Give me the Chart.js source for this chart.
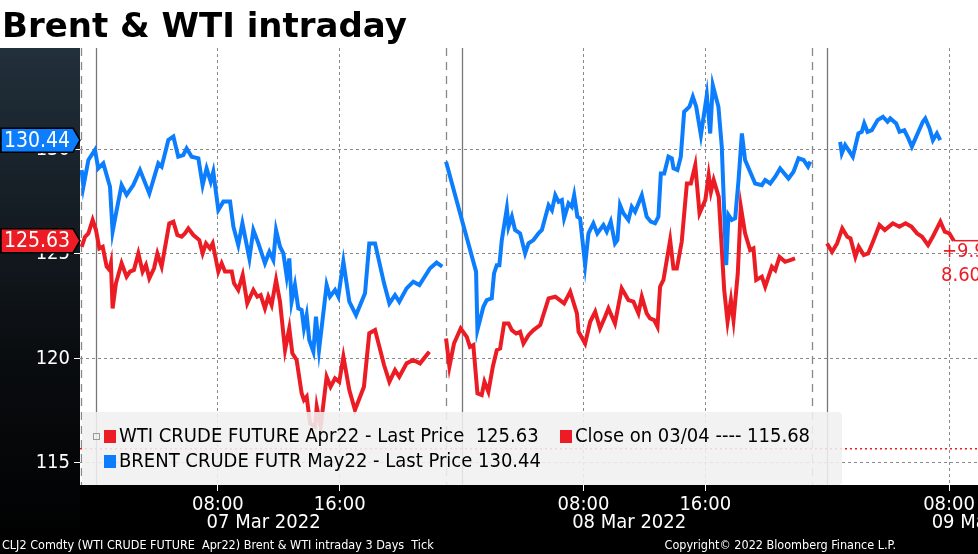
<!DOCTYPE html>
<html>
<head>
<meta charset="utf-8">
<script src="https://cdn.jsdelivr.net/npm/chart.js@4"></script>
<style>
  html, body { margin: 0; padding: 0; background: #000; }
  #wrap { width: 978px; height: 554px; position: relative; }
</style>
</head>
<body>
<div id="wrap"><canvas id="myChart" width="978" height="554"></canvas></div>
<script>
// hours since 00:00 07 Mar 2022, price in USD
const brentD1 = [[-0.94,129.01],[-0.83,128.21],[-0.5,129.49],[-0.07,129.97],[0.15,129.09],[0.48,129.33],[0.92,128.21],[1.09,126.06],[1.36,127.1],[1.68,128.29],[2.01,127.82],[2.45,128.29],[2.89,129.01],[3.5,127.89],[4.09,129.33],[4.31,129.17],[4.75,130.45],[5.08,130.61],[5.4,129.65],[5.73,129.73],[5.95,130.05],[6.28,129.65],[6.72,129.57],[7.0,128.29],[7.26,129.09],[7.53,128.45],[7.7,128.93],[8.03,127.1],[8.36,127.5],[8.8,127.5],[9.02,126.3],[9.34,125.42],[9.61,126.46],[10.07,124.78],[10.33,126.14],[10.66,125.5],[11.09,124.55],[11.38,125.1],[11.64,124.7],[11.82,126.14],[12.08,125.34],[12.3,125.02],[12.52,123.91],[12.69,124.78],[12.84,122.71],[13.06,123.51],[13.28,122.39],[13.5,122.31],[13.65,121.44],[13.83,122.07],[14.0,120.88],[14.27,120.32],[14.44,121.99],[14.64,120.4],[15.14,123.51],[15.36,122.95],[15.69,123.27],[15.91,122.95],[16.24,124.63],[16.63,122.71],[17.07,122.07],[17.66,123.11],[17.94,125.5],[18.32,125.5],[18.91,123.59],[19.26,122.63],[19.63,123.03],[19.91,122.71],[20.39,123.35],[20.83,123.67],[21.23,123.51],[21.93,124.31],[22.36,124.58],[22.73,124.39]];
const brentD2 = [[22.98,129.41],[23.9,126.94],[24.95,124.15],[25.04,121.36],[25.43,122.47],[25.65,122.79],[25.98,122.87],[26.13,124.06],[26.31,124.46],[26.48,124.46],[26.64,125.66],[26.97,127.17],[27.08,126.29],[27.3,126.78],[27.51,126.14],[27.84,125.98],[28.17,125.02],[28.39,125.5],[28.72,125.66],[29.05,125.98],[29.27,126.14],[29.71,127.33],[29.93,127.09],[30.15,127.81],[30.37,127.49],[30.58,127.57],[30.73,126.7],[31.02,127.41],[31.23,127.25],[31.39,127.81],[31.6,126.78],[31.78,126.7],[32.11,124.46],[32.33,125.98],[32.65,126.46],[32.91,125.98],[33.31,126.38],[33.53,126.06],[33.79,126.54],[34.07,125.5],[34.23,125.66],[34.4,127.33],[34.62,126.94],[34.95,126.62],[35.17,127.25],[35.39,127.01],[35.61,127.41],[35.83,127.81],[36.15,126.78],[36.42,126.54],[36.7,126.46],[36.92,126.78],[37.08,128.85],[37.3,128.85],[37.58,129.65],[37.8,129.57],[37.91,129.09],[38.17,129.01],[38.39,129.65],[38.61,131.8],[38.96,132.04],[39.18,132.52],[39.4,132.04],[39.71,130.68],[40.1,132.6],[40.32,130.76],[40.49,133.07],[40.86,132.04],[41.08,130.13],[41.37,124.46],[41.52,126.86],[41.74,126.62],[41.96,126.7],[42.18,128.53],[42.4,130.76],[42.61,129.49],[42.94,128.93],[43.27,128.37],[43.71,128.29],[43.93,128.53],[44.26,128.37],[44.59,128.69],[44.91,129.09],[45.46,128.61],[45.79,128.93],[46.12,129.57],[46.45,129.49],[46.74,129.17],[46.89,129.41]];
const brentD3 = [[48.85,130.36],[48.96,129.81],[49.18,130.21],[49.68,129.65],[50.05,130.76],[50.27,130.84],[50.43,131.24],[50.65,130.84],[50.93,130.92],[51.31,131.4],[51.66,131.56],[51.96,131.32],[52.14,131.48],[52.53,131.24],[52.75,130.84],[53.06,130.92],[53.28,130.6],[53.56,130.13],[53.89,130.68],[54.28,131.32],[54.44,131.48],[54.72,131.0],[54.94,130.44],[55.2,130.76],[55.42,130.44]];
const wtiD1 = [[-0.94,125.34],[-0.72,125.82],[-0.5,125.98],[-0.22,126.62],[0,126.14],[0.22,125.26],[0.44,125.34],[0.7,124.39],[0.88,124.23],[0.98,124.55],[1.09,122.39],[1.31,123.59],[1.68,124.55],[2.01,123.91],[2.23,124.15],[2.49,124.23],[2.78,125.02],[3.06,124.15],[3.28,124.47],[3.5,123.83],[3.81,124.31],[4.03,125.02],[4.31,124.39],[4.81,126.46],[5.08,126.54],[5.34,125.9],[5.62,125.82],[5.84,125.98],[6.06,126.22],[6.39,125.9],[6.78,125.66],[7.0,125.02],[7.22,125.5],[7.48,125.26],[7.66,125.5],[8.03,124.15],[8.25,124.55],[8.47,124.15],[8.91,124.15],[9.06,123.59],[9.34,123.27],[9.63,123.99],[9.93,122.63],[10.33,123.27],[10.59,122.95],[10.81,123.03],[11.09,122.39],[11.31,122.95],[11.53,122.55],[11.82,123.75],[12.08,122.71],[12.41,120.4],[12.69,121.44],[12.89,120.24],[13.17,119.92],[13.5,118.33],[13.65,118.01],[13.83,118.17],[14.05,116.89],[14.38,116.73],[14.49,117.69],[14.75,116.73],[15.14,119.12],[15.4,118.64],[15.69,119.04],[15.97,118.88],[16.24,120.08],[16.63,118.48],[17.0,117.53],[17.59,118.64],[17.94,121.2],[18.32,121.36],[18.91,119.68],[19.26,118.88],[19.63,119.44],[19.91,119.12],[20.39,119.76],[20.83,119.92],[21.27,119.76],[21.88,120.32]];
const wtiD2 = [[22.98,120.95],[23.2,119.6],[23.5,120.71],[23.94,121.43],[24.34,121.03],[24.55,120.55],[24.77,120.63],[25.04,118.32],[25.32,118.24],[25.5,118.88],[25.76,118.4],[26.05,119.6],[26.31,120.39],[26.53,120.47],[26.79,121.67],[27.08,121.67],[27.3,121.35],[27.58,121.19],[27.84,121.27],[28.06,120.71],[28.39,121.11],[28.72,121.35],[29.16,121.59],[29.71,122.87],[30.15,122.95],[30.73,122.63],[31.13,123.19],[31.57,122.15],[31.68,121.27],[32.11,120.71],[32.44,121.75],[32.77,122.23],[33.09,121.43],[33.42,121.99],[33.64,122.39],[34.07,121.67],[34.51,123.35],[34.95,122.79],[35.28,122.71],[35.61,122.15],[35.83,122.95],[36.15,122.15],[36.37,121.91],[36.64,121.83],[36.86,121.51],[37.03,123.43],[37.25,123.75],[37.69,125.66],[37.91,124.3],[38.13,124.3],[38.45,125.58],[38.79,128.37],[39.05,128.37],[39.34,129.25],[39.62,126.94],[40.0,127.58],[40.22,128.77],[40.37,127.97],[40.55,128.53],[40.88,127.73],[41.24,123.27],[41.46,121.75],[41.68,122.79],[41.85,121.83],[42.13,124.06],[42.33,127.25],[42.61,125.98],[42.94,125.18],[43.16,125.26],[43.34,123.75],[43.71,123.91],[43.93,123.43],[44.37,124.38],[44.59,124.22],[44.87,124.85],[45.24,124.62],[45.57,124.7],[45.89,124.78]];
const wtiD3 = [[47.99,125.5],[48.32,125.1],[48.65,125.5],[48.99,126.22],[49.32,125.82],[49.53,125.74],[49.85,124.86],[50.07,125.34],[50.4,124.94],[50.69,125.02],[51.05,125.66],[51.43,126.38],[51.78,126.14],[52.31,126.46],[52.74,126.3],[53.14,126.46],[53.53,126.3],[53.9,125.98],[54.23,125.82],[54.62,125.42],[54.93,125.82],[55.43,126.54],[55.72,126.06],[56.02,125.98],[56.31,125.63]];

const xTicks = [8, 16, 32, 40, 56]
const yTicks = [115, 120, 125, 130]
const dayLabels = [[11, '07 Mar 2022'], [35, '08 Mar 2022'], [58.6, '09 Mar 2022']]
const sessionBreaks = [-1, 23, 47]
const midnights = [0, 24, 48]
const lastWti = 125.63
const lastBrent = 130.44
const prevClose = 115.68

const BLUE = '#0b7dfd'
const RED = '#ec1c24'
const FONT = '"DejaVu Sans Condensed", "DejaVu Sans", sans-serif'

function toPoints(...segs) {
  const out = []
  segs.forEach((s, i) => {
    if (i > 0) out.push({ x: s[0][0] - 0.01, y: null })
    s.forEach(p => out.push({ x: p[0], y: p[1] }))
  })
  return out
}

function pad2(n) { return (n < 10 ? '0' : '') + n }

const frame = {
  id: 'frame',
  beforeDraw(chart) {
    const { ctx, chartArea: a } = chart
    ctx.save()
    const g = ctx.createLinearGradient(0, 48, 0, 554)
    g.addColorStop(0, '#22303b')
    g.addColorStop(0.6, '#0a0d10')
    g.addColorStop(1, '#000')
    ctx.fillStyle = g
    ctx.fillRect(0, 48, 80, 506)
    ctx.fillStyle = '#000'
    ctx.fillRect(80, a.bottom, 898, 554 - a.bottom)
    ctx.fillStyle = '#fff'
    ctx.fillRect(0, 0, 978, 48)
    ctx.fillRect(a.left, a.top, a.right - a.left, a.bottom - a.top)
    ctx.fillStyle = '#000'
    ctx.font = 'bold 34px "DejaVu Sans", sans-serif'
    ctx.textBaseline = 'alphabetic'
    ctx.fillText('Brent & WTI intraday', 2, 37)
    ctx.restore()
  },
  beforeDatasetsDraw(chart) {
    const { ctx, chartArea: a, scales: { x, y } } = chart
    ctx.save()
    ctx.strokeStyle = '#777'
    ctx.lineWidth = 1.3
    midnights.forEach(h => {
      const px = Math.round(x.getPixelForValue(h)) + 0.5
      ctx.beginPath(); ctx.moveTo(px, a.top); ctx.lineTo(px, a.bottom); ctx.stroke()
    })
    ctx.setLineDash([8, 6])
    ctx.strokeStyle = '#888'
    sessionBreaks.forEach(h => {
      const px = Math.round(x.getPixelForValue(h)) + 0.5
      ctx.beginPath(); ctx.moveTo(px, a.top); ctx.lineTo(px, a.bottom); ctx.stroke()
    })
    ctx.restore()
  },
  afterDatasetsDraw(chart) {
    const { ctx, chartArea: a, scales: { x, y } } = chart
    ctx.save()
    // previous close line
    const py = y.getPixelForValue(prevClose)
    ctx.strokeStyle = RED
    ctx.setLineDash([2, 3])
    ctx.lineWidth = 1.5
    ctx.beginPath(); ctx.moveTo(a.left, py); ctx.lineTo(a.right, py); ctx.stroke()
    ctx.setLineDash([])
    // legend box
    ctx.fillStyle = 'rgba(240,240,240,0.88)'
    ctx.beginPath()
    ctx.roundRect(82, 412, 760, 73, 4)
    ctx.fill()
    ctx.font = '20px ' + FONT
    ctx.textBaseline = 'middle'
    ctx.fillStyle = RED
    ctx.fillRect(104, 430, 12, 13)
    ctx.fillRect(560, 430, 12, 13)
    ctx.fillStyle = BLUE
    ctx.fillRect(104, 455, 12, 13)
    ctx.strokeStyle = '#999'
    ctx.lineWidth = 1
    ctx.strokeRect(93.5, 433.5, 6, 6)
    ctx.fillStyle = '#000'
    ctx.fillText('WTI CRUDE FUTURE Apr22 - Last Price  125.63', 119, 437)
    ctx.fillText('Close on 03/04 ---- 115.68', 575, 437)
    ctx.fillText('BRENT CRUDE FUTR May22 - Last Price 130.44', 119, 462)
    // last-price line + change labels
    const ly = y.getPixelForValue(lastWti)
    const lx = x.getPixelForValue(wtiD3[wtiD3.length - 1][0])
    ctx.strokeStyle = RED
    ctx.lineWidth = 1.5
    ctx.beginPath(); ctx.moveTo(lx, ly); ctx.lineTo(a.right, ly); ctx.stroke()
    ctx.fillStyle = RED
    ctx.font = '20px ' + FONT
    ctx.fillText('+9.95', 942, ly + 11)
    ctx.fillText('8.60%', 941, ly + 35)
    // left value tags
    const tag = (val, color) => {
      const ty = y.getPixelForValue(val)
      ctx.fillStyle = color
      ctx.strokeStyle = '#000'
      ctx.beginPath()
      ctx.moveTo(1, ty - 12); ctx.lineTo(73, ty - 12); ctx.lineTo(80, ty)
      ctx.lineTo(73, ty + 12); ctx.lineTo(1, ty + 12); ctx.closePath()
      ctx.fill(); ctx.stroke()
      ctx.fillStyle = '#fff'
      ctx.font = '21px ' + FONT
      ctx.textAlign = 'left'
      ctx.fillText(val.toFixed(2), 4, ty + 1)
    }
    tag(lastBrent, BLUE)
    tag(lastWti, RED)
    // date labels and footer
    ctx.fillStyle = '#fff'
    ctx.textAlign = 'center'
    ctx.font = '20px ' + FONT
    dayLabels.forEach(([h, t]) => ctx.fillText(t, x.getPixelForValue(h), 523))
    ctx.font = '12.5px ' + FONT
    ctx.textAlign = 'left'
    ctx.fillText('CLJ2 Comdty (WTI CRUDE FUTURE  Apr22) Brent & WTI intraday 3 Days  Tick', 2, 546)
    ctx.textAlign = 'right'
    ctx.fillText('Copyright\u00a9 2022 Bloomberg Finance L.P.', 896, 546)
    ctx.restore()
  }
}

const chartConfig = {
  type: 'line',
  data: {
    datasets: [
      { data: toPoints(brentD1, brentD2, brentD3), borderColor: BLUE, borderWidth: 4, pointRadius: 0, tension: 0, spanGaps: false },
      { data: toPoints(wtiD1, wtiD2, wtiD3), borderColor: RED, borderWidth: 4, pointRadius: 0, tension: 0, spanGaps: false },
    ],
  },
  options: {
    responsive: false,
    animation: false,
    layout: { padding: { top: 48, right: 0, bottom: 0, left: 0 } },
    plugins: { legend: { display: false }, tooltip: { enabled: false } },
    scales: {
      x: {
        type: 'linear',
        min: -1.05,
        max: 57.9,
        afterBuildTicks: s => { s.ticks = xTicks.map(v => ({ value: v })) },
        afterFit: s => { s.height = 69 },
        ticks: {
          color: '#fff',
          font: { size: 20, family: FONT },
          padding: 2,
          maxRotation: 0,
          callback: v => pad2(v % 24) + ':00',
        },
        grid: { color: '#888', lineWidth: 1, tickLength: 6, tickColor: '#fff' },
        border: { display: false, dash: [3, 3] },
      },
      y: {
        min: 113.94,
        max: 134.85,
        afterBuildTicks: s => { s.ticks = yTicks.map(v => ({ value: v })) },
        afterFit: s => { s.width = 80 },
        ticks: { color: '#fff', font: { size: 20, family: FONT }, padding: 4 },
        grid: { color: '#888', lineWidth: 1, tickLength: 6, tickColor: '#fff' },
        border: { display: false, dash: [3, 3] },
      },
    },
  },
  plugins: [frame],
}

const ctx = document.getElementById('myChart').getContext('2d')
const chart = new Chart(ctx, chartConfig)
</script>
</body>
</html>
